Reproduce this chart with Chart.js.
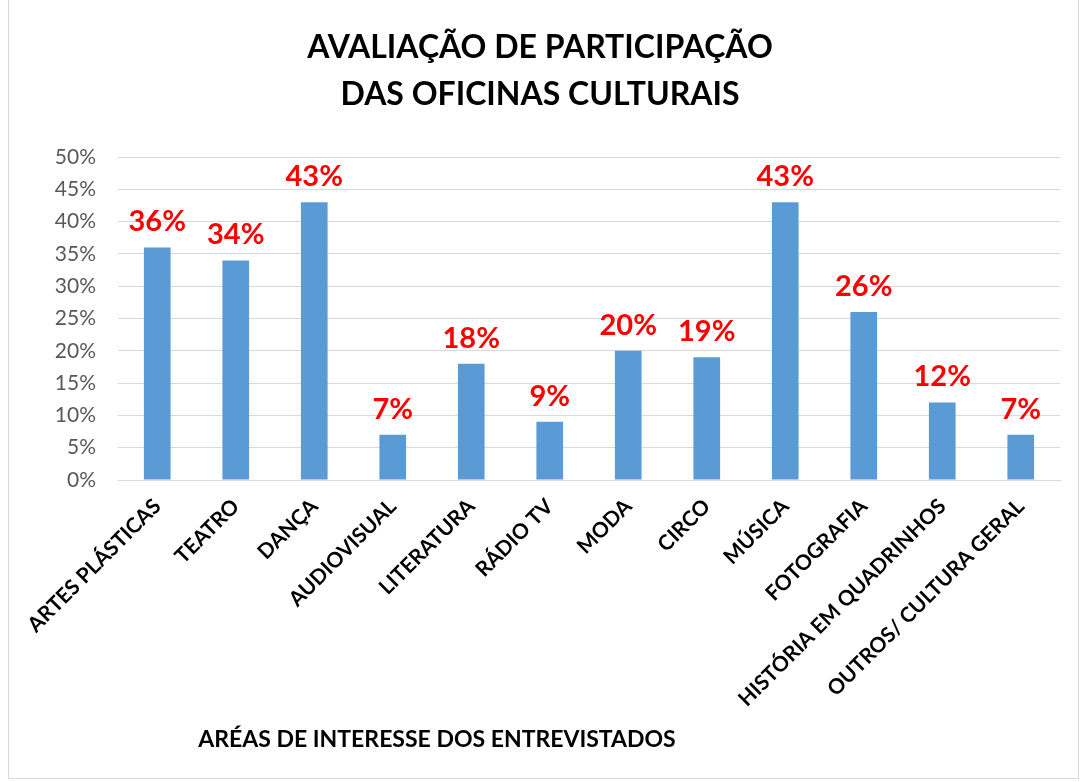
<!DOCTYPE html>
<html>
<head>
<meta charset="utf-8">
<script src="https://cdn.jsdelivr.net/npm/chart.js@4"></script>
<style>
  body { margin: 0; background: #fff; }
  #frame { position: absolute; left: 8px; top: -1px; width: 1069px; height: 778px; border: 1px solid #d9d9d9; }
  canvas { position: absolute; left: 0; top: 0; }
</style>
</head>
<body>
<div id="frame"></div>
<canvas id="chart" width="1086" height="782"></canvas>
<script>
  // Chart data
  const categories = ['ARTES PLÁSTICAS', 'TEATRO', 'DANÇA', 'AUDIOVISUAL', 'LITERATURA', 'RÁDIO TV',
    'MODA', 'CIRCO', 'MÚSICA', 'FOTOGRAFIA', 'HISTÓRIA EM QUADRINHOS', 'OUTROS/ CULTURA GERAL'];
  const values = [36, 34, 43, 7, 18, 9, 20, 19, 43, 26, 12, 7];
  const yTicks = [0, 5, 10, 15, 20, 25, 30, 35, 40, 45, 50];

  const fontFamily = 'Lato, "Open Sans", sans-serif';

  // red labels above bars
  const barLabels = {
    id: 'barLabels',
    afterDatasetsDraw(chart) {
      const ctx = chart.ctx;
      const meta = chart.getDatasetMeta(0);
      ctx.save();
      ctx.fillStyle = '#ff0000';
      ctx.font = 'bold 29px ' + fontFamily;
      ctx.textAlign = 'center';
      ctx.textBaseline = 'alphabetic';
      meta.data.forEach((bar, i) => {
        ctx.fillText(values[i] + '%', bar.x, bar.y - 16);
      });
      ctx.restore();
    }
  };

  // axis title sits left of centre in the original
  const axisTitle = {
    id: 'axisTitle',
    afterDraw(chart) {
      const ctx = chart.ctx;
      ctx.save();
      ctx.fillStyle = '#000';
      ctx.font = 'bold 23px ' + fontFamily;
      ctx.textAlign = 'center';
      ctx.textBaseline = 'middle';
      ctx.fillText('ARÉAS DE INTERESSE DOS ENTREVISTADOS', 437, 740);
      ctx.restore();
    }
  };

  new Chart(document.getElementById('chart'), {
    type: 'bar',
    data: {
      labels: categories,
      datasets: [{
        data: values,
        backgroundColor: '#5b9bd5',
        borderWidth: 0,
        barPercentage: 0.34,
        categoryPercentage: 1
      }]
    },
    options: {
      responsive: false,
      animation: false,
      layout: { padding: { left: 20, right: 26, top: 0, bottom: 10 } },
      plugins: {
        legend: { display: false },
        tooltip: { enabled: false },
        title: {
          display: true,
          text: ['AVALIAÇÃO DE PARTICIPAÇÃO', 'DAS OFICINAS CULTURAIS'],
          color: '#000',
          font: { family: fontFamily, size: 32, weight: 'bold', lineHeight: 1.47 },
          padding: { top: 24, bottom: 39 }
        }
      },
      scales: {
        x: {
          grid: { display: false },
          border: { color: '#d9d9d9', width: 1 },
          ticks: {
            color: '#000',
            font: { family: fontFamily, size: 21, weight: 'bold' },
            minRotation: 45,
            maxRotation: 45,
            padding: 6
          },
          afterFit(scale) { scale.height = 292; }
        },
        y: {
          min: 0,
          max: 50,
          afterBuildTicks(scale) { scale.ticks = yTicks.map(v => ({ value: v })); },
          grid: { color: '#d9d9d9', lineWidth: 1, drawTicks: false },
          border: { display: false },
          ticks: {
            color: '#595959',
            font: { family: fontFamily, size: 21 },
            padding: 22,
            callback: v => v + '%'
          },
          afterFit(scale) { scale.width = 98; }
        }
      }
    },
    plugins: [barLabels, axisTitle]
  });
</script>
</body>
</html>
